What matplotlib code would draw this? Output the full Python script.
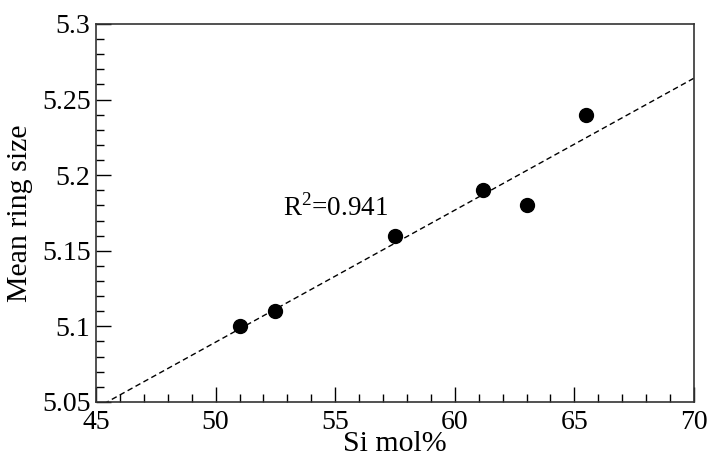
import matplotlib
matplotlib.use("Agg")
import matplotlib.pyplot as plt
from matplotlib.ticker import MultipleLocator
import numpy as np

# data
si_mol = [51.0, 52.5, 57.5, 61.2, 63.0, 65.5]
ring_size = [5.10, 5.11, 5.16, 5.19, 5.18, 5.24]
r2_label = "R$^2$=0.941"

plt.rcParams["font.family"] = ["Liberation Serif", "DejaVu Serif"]
plt.rcParams["mathtext.fontset"] = "custom"
plt.rcParams["mathtext.rm"] = "Liberation Serif"

fig = plt.figure(figsize=(7.09, 4.57), dpi=100)
ax = fig.add_axes([0.1354, 0.1204, 0.8434, 0.8271])

# linear fit through the points, drawn across the whole x range
slope, intercept = np.polyfit(si_mol, ring_size, 1)
xfit = np.linspace(45, 70, 200)
ax.plot(xfit, slope * xfit + intercept, color="black", linestyle=(0, (4, 2.5)), linewidth=1.0)

ax.plot(si_mol, ring_size, "o", color="black", markersize=10, zorder=3)

ax.text(52.8, 5.1735, r2_label, fontsize=19.5)

ax.set_xlim(45, 70)
ax.set_ylim(5.05, 5.3)
ax.xaxis.set_major_locator(MultipleLocator(5))
ax.xaxis.set_minor_locator(MultipleLocator(1))
ax.yaxis.set_minor_locator(MultipleLocator(0.01))
ax.set_yticks([5.05, 5.1, 5.15, 5.2, 5.25, 5.3])
ax.set_yticklabels(["5.05", "5.1", "5.15", "5.2", "5.25", "5.3"])

ax.tick_params(which="both", direction="in", top=False, right=False, labelsize=20, width=1.0)
ax.tick_params(which="major", length=11)
ax.tick_params(axis="x", which="major", pad=6)
ax.tick_params(axis="y", which="major", pad=4)
ax.tick_params(which="minor", length=6)
for s in ax.spines.values():
    s.set_linewidth(1.2)
    s.set_color("#333333")

ax.set_xlabel("Si mol%", fontsize=21.5, labelpad=-3)
ax.set_ylabel("Mean ring size", fontsize=21.5, labelpad=6)

fig.savefig("out.png", dpi=100)
